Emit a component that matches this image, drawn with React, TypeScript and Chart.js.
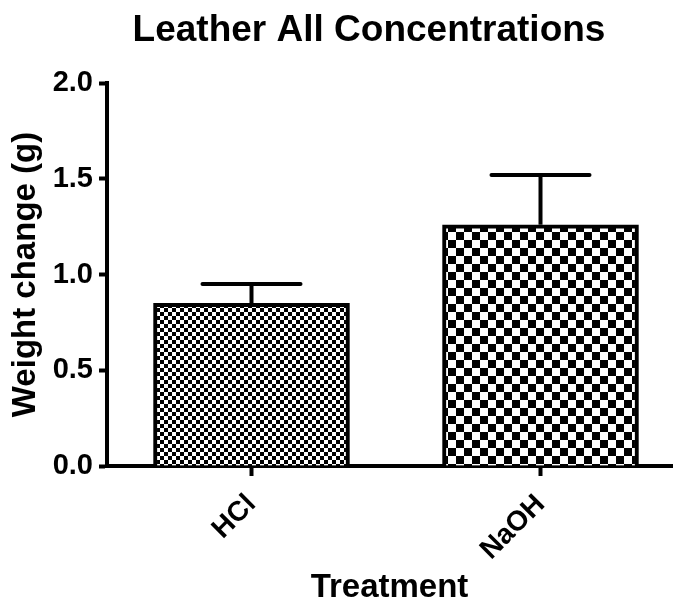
import React, { useEffect, useRef } from "react";
import { Chart, registerables } from "chart.js";

Chart.register(...registerables);

const categories = ["HCl", "NaOH"];
const means = [0.85, 1.26];
const errors = [0.1, 0.26];
const yTicks = [0, 0.5, 1.0, 1.5, 2.0];
const checkerSizes = [4, 8];
const chartTitle = "Leather All Concentrations";
const xTitle = "Treatment";
const yTitle = "Weight change (g)";

const FONT = "'Liberation Sans', Arial, sans-serif";

function makeChecker(ctx: CanvasRenderingContext2D, size: number) {
  const c = document.createElement("canvas");
  c.width = size * 2;
  c.height = size * 2;
  const g = c.getContext("2d")!;
  g.fillStyle = "#ffffff";
  g.fillRect(0, 0, size * 2, size * 2);
  g.fillStyle = "#000000";
  g.fillRect(0, 0, size, size);
  g.fillRect(size, size, size, size);
  return ctx.createPattern(c, "repeat")!;
}

const errorBarPlugin = {
  id: "errorBars",
  afterDatasetsDraw(chart: any) {
    const ctx = chart.ctx as CanvasRenderingContext2D;
    const meta = chart.getDatasetMeta(0);
    const ys = chart.scales.y;
    ctx.save();
    ctx.strokeStyle = "#000";
    ctx.lineWidth = 4;
    meta.data.forEach((bar: any, i: number) => {
      const x = bar.x;
      const yTop = bar.y;
      const yErr = ys.getPixelForValue(means[i] + errors[i]);
      const half = bar.width * 0.25;
      ctx.lineCap = "butt";
      ctx.beginPath();
      ctx.moveTo(x, yTop);
      ctx.lineTo(x, yErr);
      ctx.stroke();
      ctx.lineCap = "round";
      ctx.beginPath();
      ctx.moveTo(x - half, yErr);
      ctx.lineTo(x + half, yErr);
      ctx.stroke();
    });
    ctx.restore();
  },
};

const titlePlugin = {
  id: "plotTitle",
  afterDraw(chart: any) {
    const ctx = chart.ctx as CanvasRenderingContext2D;
    ctx.save();
    ctx.fillStyle = "#000";
    ctx.font = `bold 37px ${FONT}`;
    ctx.textAlign = "center";
    ctx.textBaseline = "middle";
    ctx.fillText(chartTitle, 369, 31);
    ctx.restore();
  },
};

export default function App() {
  const ref = useRef<HTMLCanvasElement | null>(null);

  useEffect(() => {
    const canvas = ref.current!;
    const ctx = canvas.getContext("2d")!;
    const patterns = checkerSizes.map((s) => makeChecker(ctx, s));

    const chart = new Chart(canvas, {
      type: "bar",
      data: {
        datasets: [
          {
            data: means.map((v, i) => ({ x: i, y: v })) as any,
            backgroundColor: patterns as any,
            borderColor: "#000",
            borderWidth: 4,
            borderSkipped: "start",
            barThickness: 196,
          },
        ],
      },
      options: {
        responsive: false,
        animation: false,
        devicePixelRatio: 1,
        layout: { padding: { left: 0, right: 6, top: 83, bottom: 0 } },
        plugins: {
          legend: { display: false },
          tooltip: { enabled: false },
          title: { display: false },
        },
        scales: {
          x: {
            type: "linear",
            offset: false,
            min: -0.5,
            max: 1.455,
            afterFit: (s: any) => {
              s.height = 138;
            },
            afterBuildTicks: (s: any) => {
              s.ticks = categories.map((_, i) => ({ value: i }));
            },
            ticks: {
              autoSkip: false,
              minRotation: 45,
              maxRotation: 45,
              color: "#000",
              padding: 12,
              font: { family: FONT, size: 28, weight: "bold" },
              callback: (v: any) => categories[v as number] ?? "",
            },
            grid: {
              display: true,
              offset: false,
              drawOnChartArea: false,
              drawTicks: true,
              tickLength: 10,
              tickWidth: 4,
              color: "#000",
            },
            border: { display: true, color: "#000", width: 4 },
            title: {
              display: true,
              text: xTitle,
              color: "#000",
              font: { family: FONT, size: 33, weight: "bold" },
              padding: { top: 0, bottom: -4 },
            },
          },
          y: {
            type: "linear",
            min: 0,
            max: 2,
            afterFit: (s: any) => {
              s.width = 107;
            },
            afterBuildTicks: (s: any) => {
              s.ticks = yTicks.map((v) => ({ value: v }));
            },
            ticks: {
              color: "#000",
              padding: 6,
              font: { family: FONT, size: 29, weight: "bold" },
              callback: (v: any) => Number(v).toFixed(1),
            },
            grid: {
              display: true,
              drawOnChartArea: false,
              drawTicks: true,
              tickLength: 8,
              tickWidth: 4,
              color: "#000",
            },
            border: { display: true, color: "#000", width: 4 },
            title: {
              display: true,
              text: yTitle,
              color: "#000",
              font: { family: FONT, size: 33, weight: "bold" },
              padding: { top: 6, bottom: 0 },
            },
          },
        },
      },
      plugins: [errorBarPlugin, titlePlugin],
    });
    return () => chart.destroy();
  }, []);

  return (
    <div style={{ position: "absolute", left: 0, top: 0, width: 678, height: 604, background: "#fff" }}>
      <canvas ref={ref} width={678} height={604} style={{ width: 678, height: 604 }} />
    </div>
  );
}
